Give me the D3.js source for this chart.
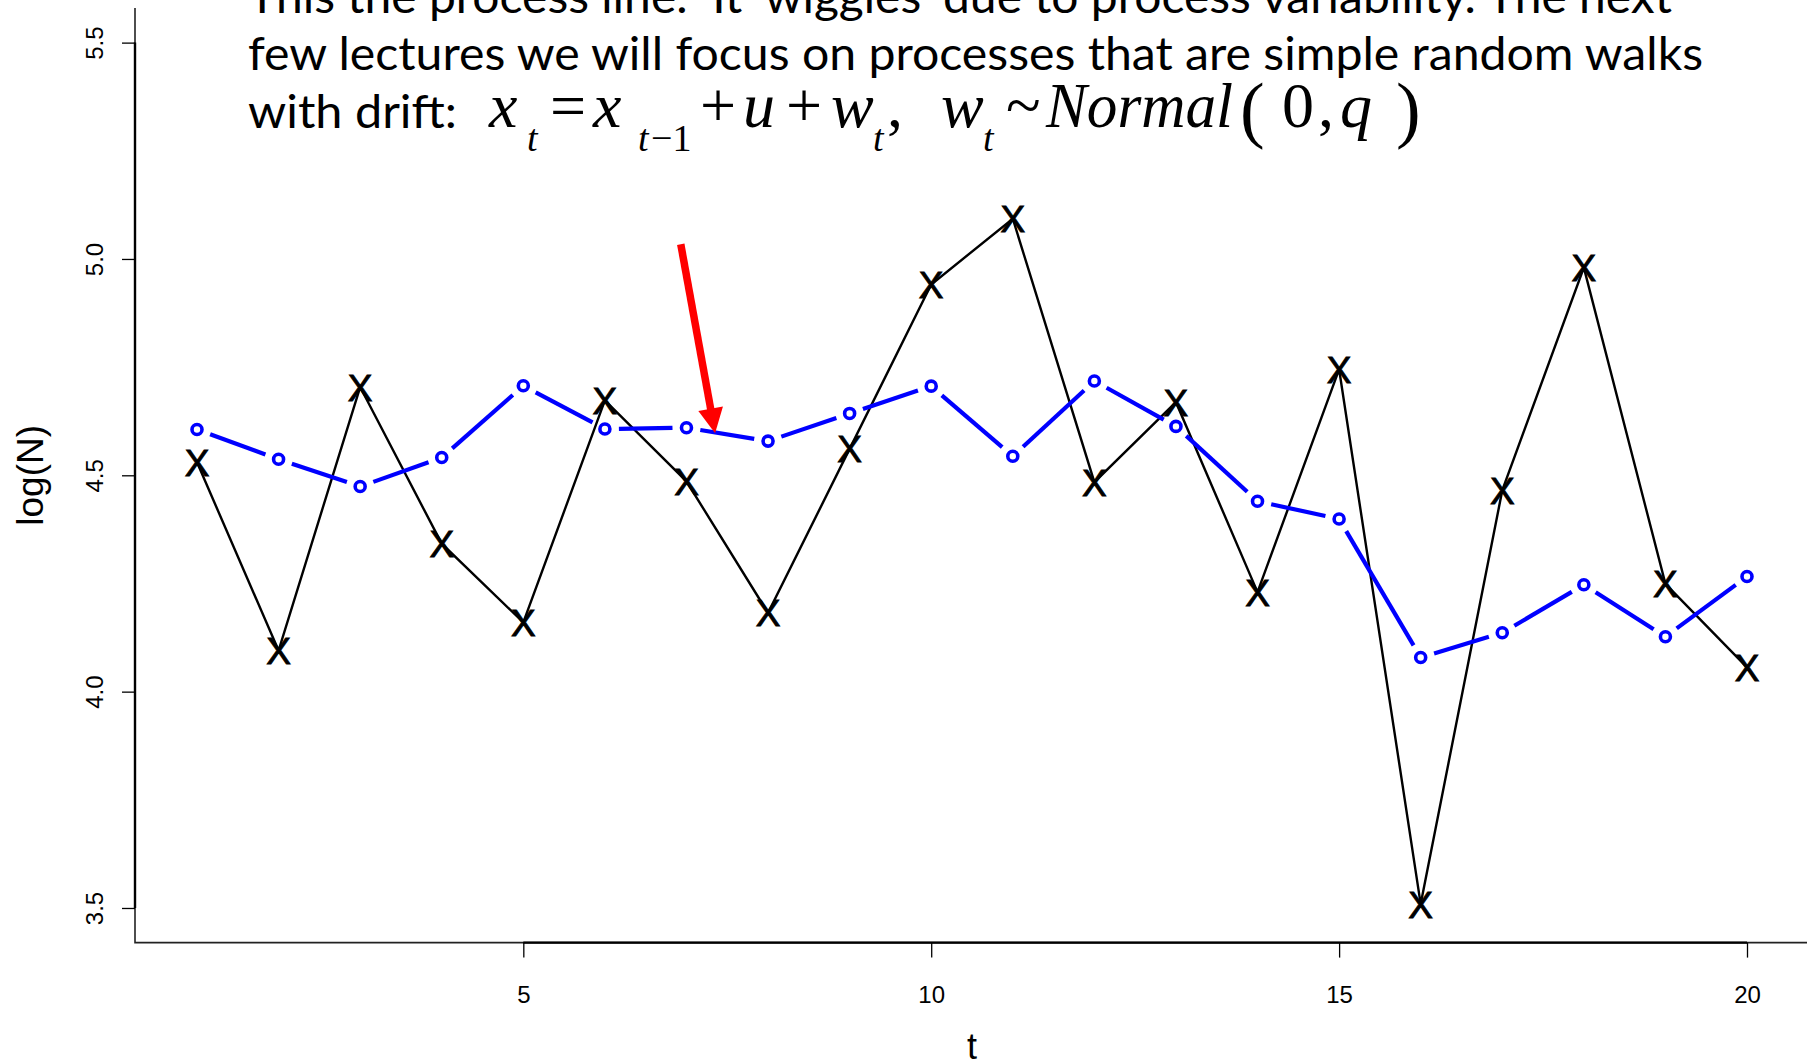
<!DOCTYPE html>
<html>
<head>
<meta charset="utf-8">
<script src="https://cdn.jsdelivr.net/npm/d3@7"></script>
<style>
  html, body { margin: 0; padding: 0; background: #ffffff; overflow: hidden; }
  svg { display: block; }
</style>
</head>
<body>
<svg id="chart" width="1807" height="1063"></svg>
<script>
// ---- data -------------------------------------------------------------
const timeSteps = [1, 2, 3, 4, 5, 6, 7, 8, 9, 10, 11, 12, 13, 14, 15, 16, 17, 18, 19, 20];

// observed log abundance (plotted as "X")
const observed = [4.530, 4.095, 4.704, 4.342, 4.160, 4.673, 4.486, 4.182, 4.561, 4.941,
                  5.093, 4.484, 4.669, 4.230, 4.745, 3.509, 4.465, 4.980, 4.249, 4.056];

// underlying process (blue line with open circles)
const processLine = [4.606, 4.537, 4.474, 4.541, 4.707, 4.607, 4.610, 4.579, 4.643, 4.706,
                     4.544, 4.718, 4.613, 4.440, 4.399, 4.079, 4.136, 4.247, 4.127, 4.266];

const xTicks = [5, 10, 15, 20];
const yTicks = [3.5, 4.0, 4.5, 5.0, 5.5];

const xLabel = "t";
const yLabel = "log(N)";

const headerLines = [
  "This the process line.  It \u2018wiggles\u2019 due to process variability. The next",
  "few lectures we will focus on processes that are simple random walks",
  "with drift:"
];

// arrow pointing at the process line, in data units [t, log(N)]
const arrowFrom = [6.93, 5.034];
const arrowTo = [7.351, 4.597];

// ---- layout -----------------------------------------------------------
const svg = d3.select("#chart");
const plot = { left: 135, right: 1809, top: 8, bottom: 942.6 };

// R-style 4% padding around the data range
const x = d3.scaleLinear().domain([0.24, 20.76]).range([plot.left, plot.right]);
const y = d3.scaleLinear().domain([3.42, 5.58]).range([plot.bottom, plot.top]);

const axisFont = "'Liberation Sans', Arial, Helvetica, sans-serif";

// L-shaped frame
svg.append("path")
  .attr("d", `M${plot.left},${plot.top}V${plot.bottom}H1807`)
  .attr("fill", "none").attr("stroke", "#222").attr("stroke-width", 1.6);

// x axis
const xAxis = svg.append("g")
  .attr("transform", `translate(0,${plot.bottom})`)
  .call(d3.axisBottom(x).tickValues(xTicks).tickSize(15).tickSizeOuter(0).tickPadding(28).tickFormat(d3.format("d")));
xAxis.select(".domain").remove();
xAxis.selectAll(".tick line").attr("stroke", "#000").attr("stroke-width", 1.3);
xAxis.selectAll(".tick text")
  .attr("font-family", axisFont).attr("font-size", 24).attr("fill", "#000");
svg.append("line")
  .attr("x1", x(xTicks[0])).attr("x2", x(xTicks[xTicks.length - 1]))
  .attr("y1", plot.bottom).attr("y2", plot.bottom)
  .attr("stroke", "#000").attr("stroke-width", 2.4);

// y axis with labels parallel to the axis
const yAxis = svg.append("g")
  .attr("transform", `translate(${plot.left},0)`)
  .call(d3.axisLeft(y).tickValues(yTicks).tickSize(13).tickSizeOuter(0).tickFormat(d3.format(".1f")));
yAxis.select(".domain").remove();
yAxis.selectAll(".tick line").attr("stroke", "#000").attr("stroke-width", 1.3);
yAxis.selectAll(".tick text")
  .attr("font-family", axisFont).attr("font-size", 24).attr("fill", "#000")
  .attr("x", null).attr("dy", null)
  .attr("text-anchor", "middle")
  .attr("transform", "translate(-32,0) rotate(-90)");
svg.append("line")
  .attr("x1", plot.left).attr("x2", plot.left)
  .attr("y1", y(yTicks[0])).attr("y2", y(yTicks[yTicks.length - 1]))
  .attr("stroke", "#000").attr("stroke-width", 2.4);

// axis titles
svg.append("text")
  .attr("x", (plot.left + plot.right) / 2).attr("y", 1059)
  .attr("text-anchor", "middle")
  .attr("font-family", axisFont).attr("font-size", 36).attr("fill", "#000")
  .text(xLabel);
svg.append("text")
  .attr("transform", `translate(43,${(plot.top + plot.bottom) / 2}) rotate(-90)`)
  .attr("text-anchor", "middle")
  .attr("font-family", axisFont).attr("font-size", 37).attr("fill", "#000")
  .text(yLabel);

// ---- observations: black line through "X" symbols ----------------------
const obsPts = timeSteps.map((t, i) => [x(t), y(observed[i])]);
svg.append("path")
  .attr("d", d3.line()(obsPts))
  .attr("fill", "none").attr("stroke", "#000").attr("stroke-width", 2.4)
  .attr("stroke-linejoin", "miter");
svg.append("g").selectAll("text")
  .data(obsPts)
  .join("text")
  .attr("x", d => d[0]).attr("y", d => d[1] + 13.5)
  .attr("text-anchor", "middle")
  .attr("font-family", axisFont).attr("font-size", 37).attr("fill", "#000")
  .attr("stroke", "#000").attr("stroke-width", 0.9)
  .text("X");

// ---- process: blue segments with gaps around open circles --------------
const procPts = timeSteps.map((t, i) => [x(t), y(processLine[i])]);
const gap = 14;
const segs = d3.pairs(procPts).map(([a, b]) => {
  const dx = b[0] - a[0], dy = b[1] - a[1];
  const len = Math.hypot(dx, dy);
  const ux = dx / len, uy = dy / len;
  return [a[0] + ux * gap, a[1] + uy * gap, b[0] - ux * gap, b[1] - uy * gap, len];
}).filter(s => s[4] > 2 * gap);
svg.append("g").selectAll("line")
  .data(segs)
  .join("line")
  .attr("x1", d => d[0]).attr("y1", d => d[1])
  .attr("x2", d => d[2]).attr("y2", d => d[3])
  .attr("stroke", "#0000ff").attr("stroke-width", 4.2);
svg.append("g").selectAll("circle")
  .data(procPts)
  .join("circle")
  .attr("cx", d => d[0]).attr("cy", d => d[1]).attr("r", 5)
  .attr("fill", "none").attr("stroke", "#0000ff").attr("stroke-width", 3.6);

// ---- red arrow ---------------------------------------------------------
{
  const x0 = x(arrowFrom[0]), y0 = y(arrowFrom[1]);
  const x1 = x(arrowTo[0]), y1 = y(arrowTo[1]);
  const dx = x1 - x0, dy = y1 - y0, len = Math.hypot(dx, dy);
  const ux = dx / len, uy = dy / len;
  const headLen = 25, headHalf = 12.5;
  const bx = x1 - ux * headLen, by = y1 - uy * headLen;
  svg.append("line")
    .attr("x1", x0).attr("y1", y0).attr("x2", bx + ux * 2).attr("y2", by + uy * 2)
    .attr("stroke", "#ff0000").attr("stroke-width", 7.5);
  svg.append("path")
    .attr("d", `M${x1},${y1}L${bx - uy * headHalf},${by + ux * headHalf}L${bx + uy * headHalf},${by - ux * headHalf}Z`)
    .attr("fill", "#ff0000");
}

// ---- slide text --------------------------------------------------------
const textFont = "Lato, Carlito, Calibri, 'Open Sans', sans-serif";
const lineSpec = [
  { y: 13, w: 1424 },
  { y: 70, w: 1455 },
  { y: 128, w: 209 }
];
svg.append("g").selectAll("text")
  .data(headerLines)
  .join("text")
  .attr("x", 248).attr("y", (d, i) => lineSpec[i].y)
  .attr("font-family", textFont).attr("font-size", 46).attr("fill", "#000")
  .attr("xml:space", "preserve")
  .attr("textLength", (d, i) => lineSpec[i].w)
  .attr("lengthAdjust", "spacingAndGlyphs")
  .text(d => d);

// equation: x_t = x_{t-1} + u + w_t,  w_t ~ Normal(0, q)
const eqFont = "'Liberation Serif', 'Times New Roman', Times, serif";
const eqPieces = [
  { s: "x", x: 489, it: true },
  { s: "t", x: 527, it: true, sub: true },
  { s: "=", x: 550 },
  { s: "x", x: 593, it: true },
  { s: "t", x: 638, it: true, sub: true },
  { s: "\u22121", x: 651, sub: true },
  { s: "+", x: 700 },
  { s: "u", x: 743, it: true },
  { s: "+", x: 786 },
  { s: "w", x: 831, it: true },
  { s: "t", x: 873, it: true, sub: true },
  { s: ",", x: 887 },
  { s: "w", x: 941, it: true },
  { s: "t", x: 983, it: true, sub: true },
  { s: "~", x: 1006 },
  { s: "Normal", x: 1046, it: true, w: 187 },
  { s: "(", x: 1240, big: true },
  { s: "0", x: 1282 },
  { s: ",", x: 1318 },
  { s: "q", x: 1340, it: true },
  { s: ")", x: 1396, big: true }
];
const eq = svg.append("text")
  .attr("font-family", eqFont)
  .attr("fill", "#000");
eq.selectAll("tspan")
  .data(eqPieces)
  .join("tspan")
  .attr("x", d => d.x)
  .attr("y", d => d.sub ? 151 : d.big ? 134 : 127)
  .attr("font-size", d => d.sub ? 38 : d.big ? 74 : 64)
  .attr("font-style", d => d.it ? "italic" : "normal")
  .attr("textLength", d => d.w || null)
  .attr("lengthAdjust", "spacingAndGlyphs")
  .text(d => d.s);
</script>
</body>
</html>
